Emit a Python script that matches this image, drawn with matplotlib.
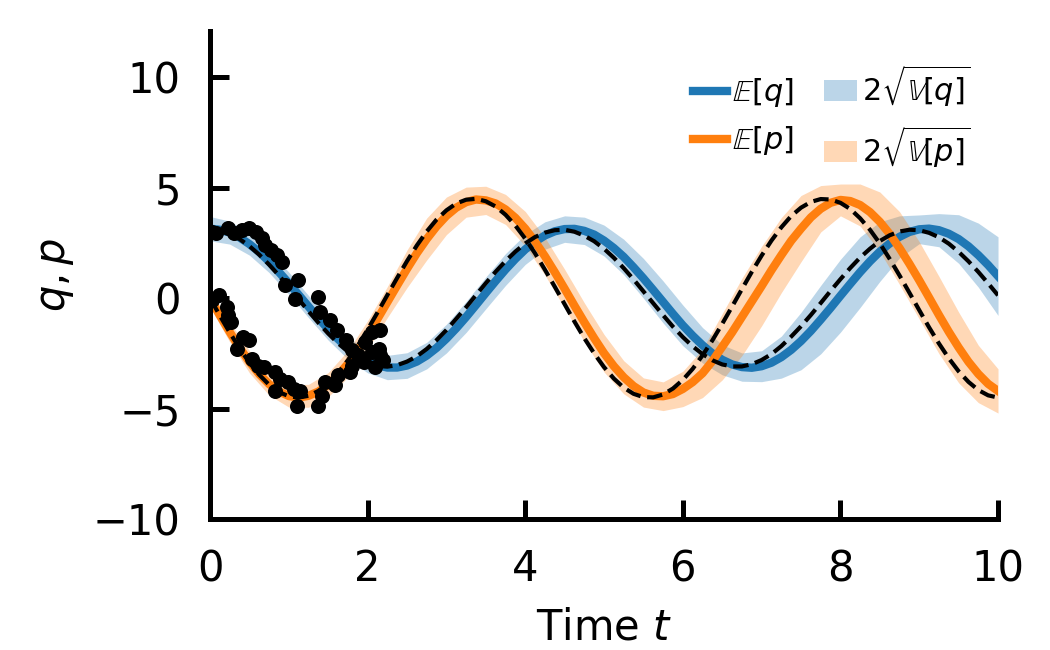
import numpy as np
import matplotlib
matplotlib.use("Agg")
from matplotlib import pyplot as plt

# fine time grid for the curves, coarse grid for the bands
t_fine = np.linspace(0, 10, 81)
t = np.linspace(0, 10, 41)

# posterior mean of q and p (read every 0.125)
mean_q = [3.15, 3.10, 2.97, 2.75, 2.45, 2.09, 1.66, 1.18, 0.68, 0.15,
          -0.38, -0.90, -1.40, -1.85, -2.26, -2.60, -2.86, -3.04, -3.14, -3.14,
          -3.05, -2.87, -2.60, -2.25, -1.83, -1.36, -0.85, -0.31, 0.24, 0.78,
          1.30, 1.78, 2.21, 2.56, 2.84, 3.03, 3.13, 3.14, 3.05, 2.88,
          2.61, 2.27, 1.87, 1.40, 0.90, 0.37, -0.17, -0.71, -1.23, -1.70,
          -2.13, -2.50, -2.79, -3.00, -3.12, -3.15, -3.08, -2.92, -2.67, -2.34,
          -1.94, -1.48, -0.97, -0.44, 0.11, 0.65, 1.18, 1.67, 2.11, 2.48,
          2.78, 3.00, 3.12, 3.15, 3.08, 2.92, 2.68, 2.35, 1.95, 1.50,
          1.00]
mean_p = [0.00, -0.78, -1.53, -2.24, -2.88, -3.44, -3.89, -4.22, -4.43, -4.50,
          -4.42, -4.23, -3.92, -3.49, -2.97, -2.35, -1.67, -0.94, -0.18, 0.58,
          1.33, 2.04, 2.68, 3.25, 3.73, 4.10, 4.35, 4.47, 4.43, 4.29,
          4.02, 3.64, 3.15, 2.56, 1.90, 1.18, 0.43, -0.34, -1.09, -1.81,
          -2.49, -3.08, -3.58, -3.98, -4.27, -4.42, -4.44, -4.34, -4.11, -3.80,
          -3.40, -2.85, -2.20, -1.55, -0.85, -0.15, 0.55, 1.27, 1.95, 2.60,
          3.15, 3.66, 4.05, 4.32, 4.45, 4.40, 4.22, 3.90, 3.46, 2.91,
          2.27, 1.56, 0.81, 0.03, -0.76, -1.52, -2.23, -2.88, -3.43, -3.88,
          -4.20]

# true trajectory (dashed), read every 0.125
true_q = [3.10, 3.05, 2.91, 2.68, 2.36, 1.97, 1.52, 1.03, 0.50, -0.05,
          -0.59, -1.11, -1.60, -2.04, -2.42, -2.72, -2.94, -3.07, -3.10, -3.03,
          -2.87, -2.63, -2.30, -1.90, -1.44, -0.93, -0.41, 0.14, 0.68, 1.20,
          1.68, 2.11, 2.48, 2.77, 2.97, 3.08, 3.10, 3.01, 2.83, 2.58,
          2.24, 1.83, 1.36, 0.85, 0.31, -0.23, -0.77, -1.29, -1.76, -2.18,
          -2.53, -2.81, -3.00, -3.09, -3.09, -2.99, -2.80, -2.53, -2.17, -1.74,
          -1.27, -0.76, -0.22, 0.33, 0.86, 1.37, 1.84, 2.24, 2.59, 2.85,
          3.02, 3.10, 3.08, 2.96, 2.76, 2.47, 2.10, 1.67, 1.19, 0.67,
          0.13]
true_p = [0.00, -0.79, -1.55, -2.27, -2.92, -3.47, -3.92, -4.25, -4.44, -4.50,
          -4.42, -4.20, -3.85, -3.38, -2.81, -2.15, -1.42, -0.65, 0.14, 0.92,
          1.68, 2.39, 3.02, 3.56, 3.98, 4.29, 4.46, 4.50, 4.39, 4.15,
          3.78, 3.29, 2.70, 2.03, 1.29, 0.52, -0.27, -1.06, -1.81, -2.50,
          -3.12, -3.64, -4.05, -4.33, -4.48, -4.49, -4.36, -4.09, -3.70, -3.20,
          -2.59, -1.91, -1.16, -0.38, 0.41, 1.19, 1.93, 2.61, 3.21, 3.72,
          4.10, 4.36, 4.49, 4.47, 4.32, 4.04, 3.62, 3.10, 2.48, 1.78,
          1.03, 0.25, -0.54, -1.32, -2.05, -2.72, -3.31, -3.79, -4.16, -4.40,
          -4.50]

# 2*sqrt(variance), read every 0.25
band_q = [0.55, 0.52, 0.50, 0.50, 0.50, 0.50, 0.50, 0.50, 0.52, 0.55,
          0.58, 0.60, 0.65, 0.70, 0.72, 0.72, 0.68, 0.62, 0.60, 0.62,
          0.70, 0.80, 0.90, 0.95, 0.92, 0.80, 0.68, 0.64, 0.70, 0.95,
          1.30, 1.55, 1.65, 1.60, 1.35, 0.95, 0.65, 0.75, 1.10, 1.45,
          1.78]
band_p = [0.40, 0.45, 0.50, 0.50, 0.50, 0.52, 0.55, 0.60, 0.65, 0.70,
          0.85, 0.95, 0.85, 0.68, 0.64, 0.68, 0.78, 0.85, 0.88, 0.88,
          0.85, 0.75, 0.66, 0.65, 0.80, 1.10, 1.50, 1.75, 1.80, 1.70,
          1.50, 1.05, 0.72, 0.95, 1.35, 1.65, 1.75, 1.75, 1.60, 1.30,
          1.00]

# noisy observations
obs_q_t = [0.02, 0.08, 0.23, 0.30, 0.40, 0.49, 0.59, 0.66, 0.70, 0.78,
           0.85, 0.91, 0.95, 1.08, 1.12, 1.37, 1.40, 1.52, 1.61, 1.73,
           1.80, 1.88, 1.95, 2.05, 2.10, 2.16, 2.20]
obs_q_v = [3.00, 2.94, 3.17, 2.95, 3.09, 3.17, 3.02, 2.71, 2.41, 2.18,
           1.95, 1.65, 0.59, -0.02, 0.82, 0.06, -0.62, -1.00, -1.45, -1.91,
           -2.36, -2.59, -2.90, -2.44, -3.10, -2.59, -2.80]
obs_p_t = [0.02, 0.11, 0.21, 0.23, 0.27, 0.34, 0.42, 0.49, 0.53, 0.61,
           0.68, 0.82, 0.82, 0.89, 0.99, 1.06, 1.10, 1.14, 1.37, 1.42,
           1.46, 1.59, 1.63, 1.78, 1.80, 1.90, 1.97, 2.05, 2.14, 2.16]
obs_p_v = [-0.10, 0.14, -0.39, -0.77, -1.08, -2.29, -1.76, -1.91, -2.74, -3.05,
           -3.12, -3.35, -4.18, -3.65, -3.80, -4.11, -4.86, -4.18, -4.86, -4.41,
           -3.80, -3.95, -3.50, -3.35, -3.05, -2.70, -1.98, -1.53, -2.29, -1.45]

mean_q = np.array(mean_q)
mean_p = np.array(mean_p)
band_q = np.array(band_q)
band_p = np.array(band_p)
centre_q = mean_q[::2]
centre_p = mean_p[::2]

fig = plt.figure(figsize=(3.5, 650 / 300), dpi=300)
ax = fig.add_axes([0.2, 0.2015, 0.7505, 0.7508])

fq = ax.fill_between(t, centre_q - band_q, centre_q + band_q, color='tab:blue',
                     alpha=0.3, lw=0, zorder=1)
fp = ax.fill_between(t, centre_p - band_p, centre_p + band_p, color='tab:orange',
                     alpha=0.3, lw=0, zorder=1)
lq, = ax.plot(t_fine, mean_q, color='tab:blue', lw=2, zorder=2)
lp, = ax.plot(t_fine, mean_p, color='tab:orange', lw=2, zorder=2)
ax.plot(t_fine, true_q, 'k--', lw=1, zorder=3)
ax.plot(t_fine, true_p, 'k--', lw=1, zorder=3)
ax.scatter(obs_q_t, obs_q_v, s=13, c='k', lw=0, zorder=4)
ax.scatter(obs_p_t, obs_p_v, s=13, c='k', lw=0, zorder=4)

ax.set_xlim(0, 10)
ax.set_ylim(-10, 12.1)
ax.set_yticks([-10, -5, 0, 5, 10])
ax.set_xticks([0, 2, 4, 6, 8, 10])
ax.spines['top'].set_visible(False)
ax.spines['right'].set_visible(False)
for s in ['left', 'bottom']:
    ax.spines[s].set_linewidth(1.2)
ax.tick_params(direction='in', length=4.5, width=1.2, labelsize=10, pad=7)
ax.set_xlabel("Time $t$", fontsize=10)
ax.set_ylabel("$q, p$", fontsize=10)

ax.legend([lq, lp, fq, fp],
          [r'$\mathbb{E}[q]$', r'$\mathbb{E}[p]$',
           r'$2\sqrt{\mathbb{V}[q]}$', r'$2\sqrt{\mathbb{V}[p]}$'],
          ncol=2, frameon=False, fontsize=7.3, loc='upper right',
          handlelength=1.1, handletextpad=0.15, columnspacing=1.0,
          bbox_to_anchor=(1.0, 0.99))

fig.savefig("out.png", dpi=300)
